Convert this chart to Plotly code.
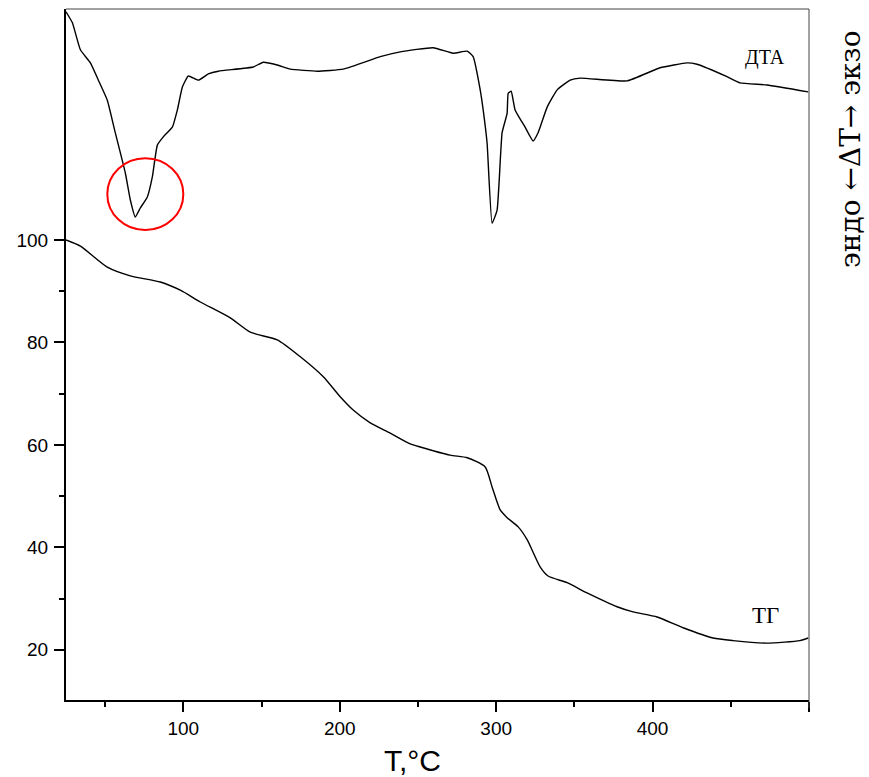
import plotly.graph_objects as go

# ---- data ----
dta_T = [25, 29.1, 34.2, 40.6, 45.7, 51.4, 56.5, 62.9, 66.1, 69.3, 72.5, 77.0, 80.2, 83.4, 87.2,
         93.0, 96.2, 99.4, 103.2, 109.6, 116.0, 122.4, 144.7, 151.1, 160.1, 168.4, 185.6, 202.2,
         225.9, 238.7, 259.7, 272.5, 281.5, 285.3, 289.8, 291.7, 294.2, 297.4, 300.6, 303.8,
         307.0, 307.7, 309.6, 312.1, 318.5, 323.6, 326.8, 332.6, 339.0, 347.3, 353.7, 383.7,
         404.8, 422.0, 428.4, 447.6, 455.9, 473.2, 499.5]
dta_val = [99.6, 98.0, 94.1, 92.2, 89.7, 86.8, 82.1, 76.3, 72.4, 69.9, 71.2, 72.8, 75.7, 80.3, 81.5,
           82.9, 85.4, 88.7, 90.3, 89.7, 90.6, 91.0, 91.6, 92.3, 91.9, 91.3, 91.0, 91.3,
           93.1, 93.8, 94.4, 93.6, 93.9, 93.1, 88.3, 85.4, 80.6, 69.0, 70.9, 82.1,
           84.9, 87.8, 88.1, 85.4, 82.9, 80.9, 82.1, 85.8, 88.3, 89.7, 90.0, 89.6,
           91.5, 92.2, 92.0, 90.2, 89.3, 89.0, 88.0]

tg_T = [25, 34.2, 51.4, 66.1, 85.3, 98.1, 110.9, 130.0, 142.8, 160.1, 174.8, 189.5, 200.3, 208.6,
        219.5, 232.3, 245.1, 251.4, 270.6, 281.5, 293.0, 297.4, 302.6, 307.0, 314.1, 319.8,
        328.1, 333.2, 345.4, 358.1, 377.3, 387.5, 402.9, 419.5, 438.7, 451.5, 473.2, 494.2, 499.5]
tg_val = [100, 98.8, 94.7, 93.0, 91.8, 90.2, 87.9, 84.8, 82.0, 80.5, 77.2, 73.3, 69.4, 66.8,
          64.3, 62.3, 60.2, 59.6, 58.0, 57.5, 55.7, 51.8, 47.3, 45.8, 44.0, 41.5,
          36.2, 34.4, 33.1, 31.1, 28.4, 27.4, 26.4, 24.3, 22.3, 21.8, 21.3, 21.8, 22.3]

x_ticks = [100, 200, 300, 400, 500]
x_ticktext = ["100", "200", "300", "400", ""]
x_minor = [50, 150, 250, 350, 450]
y_ticks = [20, 40, 60, 80, 100]
y_minor = [30, 50, 70, 90]

fig = go.Figure()
fig.add_trace(go.Scatter(x=tg_T, y=tg_val, mode="lines",
                         line=dict(color="black", width=1.4, shape="spline", smoothing=0.6),
                         showlegend=False, hoverinfo="skip"))
fig.add_trace(go.Scatter(x=dta_T, y=dta_val, mode="lines", yaxis="y2",
                         line=dict(color="black", width=1.4, shape="spline", smoothing=0.4),
                         showlegend=False, hoverinfo="skip"))

tick_font = dict(family="Liberation Sans, Arial, sans-serif", size=19, color="black")

fig.update_layout(
    width=869, height=777, autosize=False,
    margin=dict(l=66, r=60, t=9, b=77),
    paper_bgcolor="white", plot_bgcolor="white",
    xaxis=dict(range=[25, 500], showgrid=False, zeroline=False,
               showline=True, linecolor="black", linewidth=2,
               ticks="outside", ticklen=10, tickwidth=1.5, tickcolor="black",
               tickvals=x_ticks, ticktext=x_ticktext, tickfont=tick_font,
               minor=dict(tickvals=x_minor, ticks="outside", ticklen=5, tickwidth=1.5, tickcolor="black")),
    yaxis=dict(range=[10.2, 145.1], showgrid=False, zeroline=False,
               showline=True, linecolor="black", linewidth=2,
               ticks="outside", ticklen=10, tickwidth=1.5, tickcolor="black",
               tickvals=y_ticks, tickfont=tick_font, ticklabelstandoff=2,
               minor=dict(tickvals=y_minor, ticks="outside", ticklen=5, tickwidth=1.5, tickcolor="black")),
    yaxis2=dict(range=[0, 100], overlaying="y", visible=False),
)

# top and right frame lines (thin)
fig.add_shape(type="line", xref="paper", yref="paper", x0=0, x1=1, y0=1, y1=1,
              line=dict(color="#444", width=1))
fig.add_shape(type="line", xref="paper", yref="paper", x0=1, x1=1, y0=-0.012, y1=1,
              line=dict(color="#444", width=1))

# red circle around the first endotherm
fig.add_shape(type="circle", xref="x", yref="y2", x0=51.4, x1=100.0, y0=68.0, y1=78.4,
              line=dict(color="red", width=2))

serif = "Liberation Serif, Times New Roman, DejaVu Serif, serif"

fig.add_annotation(x=471.9, y=93.0, xref="x", yref="y2", text="ДТА", showarrow=False,
                   font=dict(family=serif, size=20, color="black"))
fig.add_annotation(x=471.9, y=26.6, xref="x", yref="y", text="ТГ", showarrow=False,
                   font=dict(family=serif, size=23, color="black"))
fig.add_annotation(x=1.056, y=0.797, xref="paper", yref="paper", text="эндо ←ΔT→ экзо",
                   textangle=-90, showarrow=False, xanchor="center", yanchor="middle",
                   font=dict(family="DejaVu Serif, serif", size=28, color="black"))
fig.add_annotation(x=0.466, y=-0.087, xref="paper", yref="paper", text="T,°C", showarrow=False,
                   xanchor="center", yanchor="middle",
                   font=dict(family="Liberation Sans, Arial, sans-serif", size=30, color="black"))

fig.write_html("out.html")
